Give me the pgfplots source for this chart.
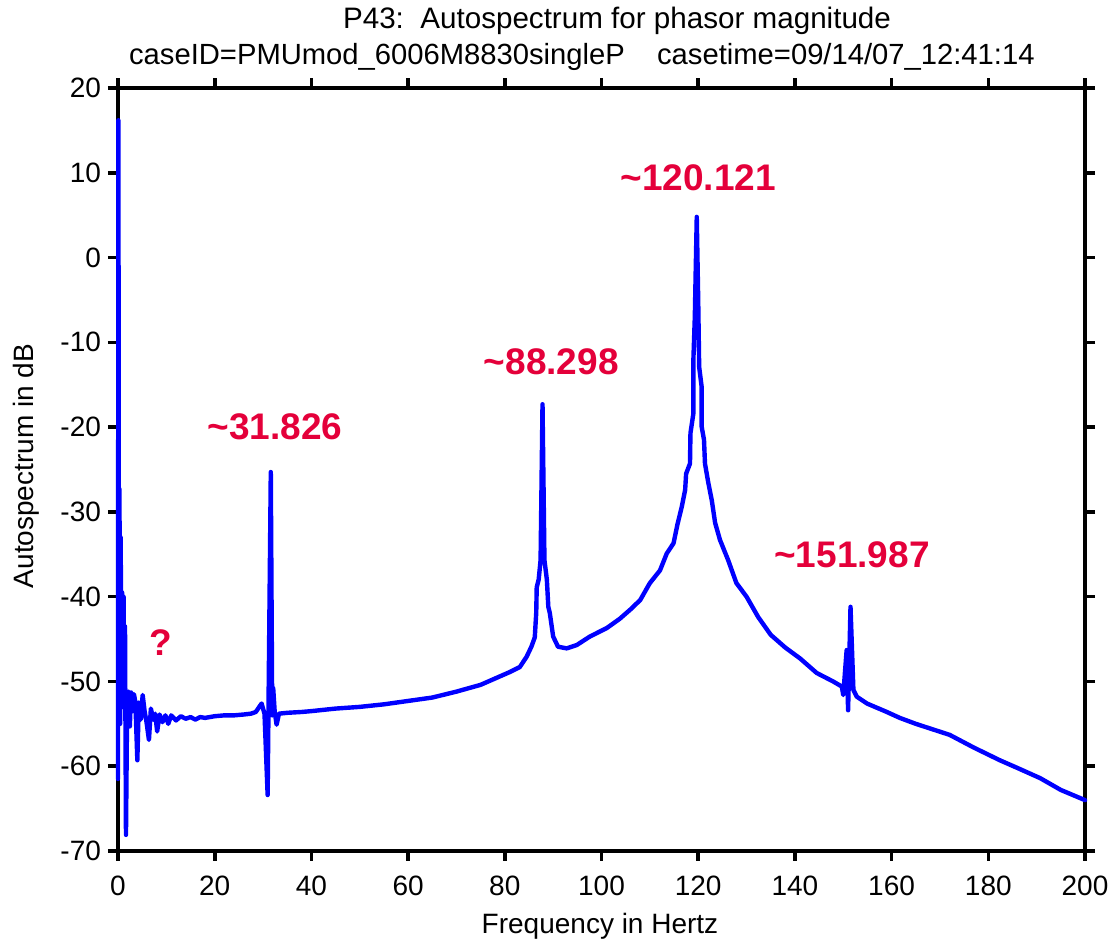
\documentclass[border=0pt]{standalone}
\usepackage{pgfplots}
\pgfplotsset{compat=1.18}
\usepackage{fontspec}
\setmainfont{Liberation Sans}
\definecolor{specblue}{RGB}{0,0,255}
\definecolor{peakred}{RGB}{228,0,58}

\pgfplotstableread{
f dB
0 -61.5
0.08 16.2
0.2 -45
0.3 -27.3
0.45 -55
0.55 -33
0.7 -50
0.85 -39.5
1.0 -53
1.15 -40
1.3 -51
1.45 -43.5
1.65 -68.1
1.9 -52
2.2 -51.2
2.45 -55.3
2.7 -51.3
3.0 -53.5
3.3 -51.5
3.6 -52.5
4.0 -59.3
4.3 -52.5
4.7 -54.5
5.1 -51.6
5.5 -53.5
5.9 -54.8
6.4 -56.9
6.8 -53.2
7.3 -54.5
7.7 -53.8
8.1 -55.9
8.6 -53.9
9.2 -54.8
9.8 -54.0
10.4 -55.0
11.0 -54.0
12 -54.6
13 -54.1
14 -54.4
15 -54.2
16 -54.5
17 -54.2
18 -54.3
19 -54.2
20 -54.1
22 -54.0
24 -54.0
26 -53.9
27.5 -53.8
28.5 -53.6
29.7 -52.6
30.3 -53.8
30.95 -63.4
31.6 -25.3
31.9 -54
32.1 -50.8
32.4 -53.5
32.8 -55.1
33.3 -53.8
35 -53.7
38 -53.6
40 -53.5
45 -53.2
50 -53.0
55 -52.7
60 -52.3
65 -51.9
70 -51.2
75 -50.4
79.0 -49.4
81 -48.9
83.1 -48.3
84.5 -47.1
85.5 -45.9
86.2 -44.8
86.5 -41.9
86.6 -38.9
87.0 -38.0
87.4 -35.7
87.8 -17.3
88.2 -35.7
88.7 -38.0
89.0 -41.2
89.3 -41.9
89.7 -43.5
90.0 -44.7
91.0 -45.9
92.8 -46.1
94.9 -45.7
97.6 -44.7
101.1 -43.7
103.8 -42.6
106 -41.5
108.0 -40.4
110.0 -38.4
112.1 -36.9
113.5 -34.9
114.9 -33.7
115.7 -31.5
116.6 -29.4
117.3 -27.4
117.5 -25.5
118.3 -24.3
118.4 -20.7
119.0 -18.4
119.0 -12.1
119.3 -7.0
119.7 4.8
120.0 -5
120.2 -12.9
120.7 -15.2
120.7 -19.9
121.2 -21.5
121.4 -24.3
122.1 -26.6
122.8 -28.6
123.5 -31.3
124.5 -33.3
126.2 -35.7
127.9 -38.4
130.0 -40.0
132.4 -42.4
135 -44.5
138 -46.0
141.1 -47.3
144.5 -49.0
147.9 -50.0
149.7 -50.6
150.0 -51.6
150.7 -46.3
151.0 -53.4
151.5 -41.2
152.1 -51.0
152.8 -51.8
154.9 -52.6
159.0 -53.6
161.7 -54.3
165 -55.0
172 -56.3
177 -57.8
182.4 -59.3
186 -60.2
190.7 -61.4
195 -62.8
200 -64.0
}\spectrum

\begin{document}
\begin{tikzpicture}
\path[use as bounding box] (-59pt,-45.5pt) rectangle (500.5pt,425.5pt);
\begin{axis}[
  at={(0,0)}, anchor=south west,
  scale only axis, width=483.5pt, height=381.5pt,
  xmin=0, xmax=200, ymin=-70, ymax=20,
  xtick distance=20, ytick distance=10,
  tick align=outside, major tick length=5pt,
  axis line style={line width=2pt},
  every tick/.style={black, line width=1.8pt},
  tick label style={font=\fontsize{14}{16}\selectfont},
  xticklabel style={yshift=-4pt},
  /pgf/number format/assume math mode=true,
  clip=false,
]
\addplot[specblue, line width=2.2pt, line join=round, line cap=round] table[x=f, y=dB] {\spectrum};
\node[peakred, font=\fontsize{18.5}{20}\selectfont\bfseries, anchor=base] at (axis cs:32.5,-21.5) {\char`\~31.826};
\node[peakred, font=\fontsize{18.5}{20}\selectfont\bfseries, anchor=base] at (axis cs:89.6,-13.85) {\char`\~88.298};
\node[peakred, font=\fontsize{18.5}{20}\selectfont\bfseries, anchor=base] at (axis cs:120,7.97) {\char`\~120.121};
\node[peakred, font=\fontsize{18.5}{20}\selectfont\bfseries, anchor=base] at (axis cs:151.8,-36.6) {\char`\~151.987};
\node[peakred, font=\fontsize{18.5}{20}\selectfont\bfseries, anchor=base] at (axis cs:8.9,-46.9) {?};
\end{axis}
\node[anchor=base, font=\fontsize{14.8}{17}\selectfont] at (249.5pt,411pt) {P43:\ \ Autospectrum for phasor magnitude};
\node[anchor=base west, font=\fontsize{14.6}{17}\selectfont, inner sep=0pt] at (5.35pt,393pt) {caseID=PMUmod\_6006M8830singleP};
\node[anchor=base east, font=\fontsize{14.6}{17}\selectfont, inner sep=0pt] at (458.5pt,393pt) {casetime=09/14/07\_12:41:14};
\node[anchor=base, font=\fontsize{14}{16}\selectfont] at (241pt,-41.5pt) {Frequency in Hertz};
\node[anchor=base, rotate=90, font=\fontsize{14}{16}\selectfont] at (-42.3pt,192.5pt) {Autospectrum in dB};
\end{tikzpicture}
\end{document}
